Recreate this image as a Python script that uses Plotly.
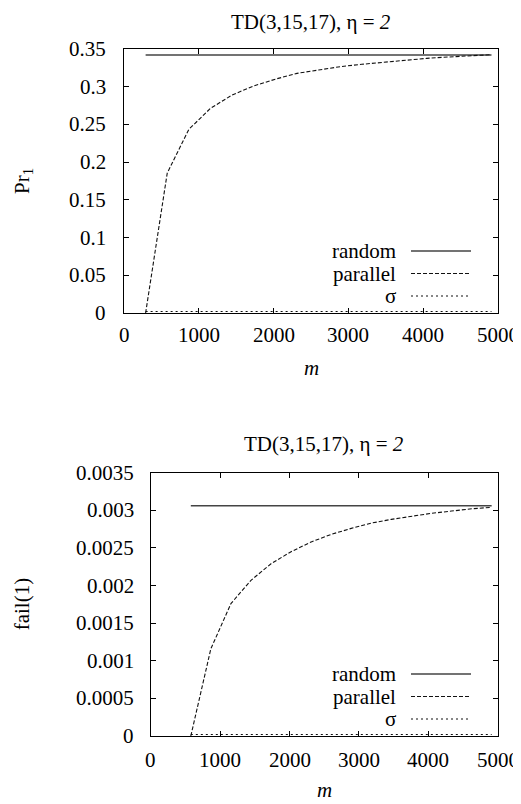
import plotly.graph_objects as go

# ---- data ----
m_top = [289, 578, 867, 1156, 1445, 1734, 2023, 2312, 2601, 2890, 3179, 3468, 3757, 4046, 4335, 4624, 4913]
pr_random = [0.342] * 17
pr_parallel = [0.0, 0.1855, 0.2435, 0.2713, 0.289, 0.301, 0.310, 0.3177, 0.3221, 0.3266,
               0.3297, 0.3326, 0.3354, 0.3376, 0.3394, 0.3411, 0.3425]
pr_sigma = [0.002] * 17

m_bot = [578, 867, 1156, 1445, 1734, 2023, 2312, 2601, 2890, 3179, 3468, 3757, 4046, 4335, 4624, 4913]
fail_random = [0.00306] * 16
fail_parallel = [0.0, 0.00116, 0.00176, 0.00207, 0.00229, 0.00245, 0.00258, 0.00268, 0.00276,
                 0.00283, 0.00288, 0.00292, 0.00296, 0.00299, 0.00302, 0.00304]
fail_sigma = [0.00002] * 16

x_ticks = [0, 1000, 2000, 3000, 4000, 5000]
x_ticks_text = ["0", "1000", "2000", "3000", "4000", "5000"]
y_ticks_top = [0, 0.05, 0.1, 0.15, 0.2, 0.25, 0.3, 0.35]
y_ticks_top_text = ["0", "0.05", "0.1", "0.15", "0.2", "0.25", "0.3", "0.35"]
y_ticks_bot = [0, 0.0005, 0.001, 0.0015, 0.002, 0.0025, 0.003, 0.0035]
y_ticks_bot_text = ["0", "0.0005", "0.001", "0.0015", "0.002", "0.0025", "0.003", "0.0035"]
series_names = ["random", "parallel", "σ"]
title_text = "TD(3,15,17), η = <i>2</i>"

W, H = 521, 804
OFF = 8  # default page body margin: figure starts 8px in from the window corner
FONT = "Liberation Serif"
FS = 21

styles = [dict(color="#444444", width=1.4, dash="solid"),
          dict(color="#111111", width=1.1, dash="4px,2px"),
          dict(color="#111111", width=1.1, dash="2px,3px")]

fig = go.Figure()
for ys, st, nm in zip([pr_random, pr_parallel, pr_sigma], styles, series_names):
    fig.add_trace(go.Scatter(x=m_top, y=ys, mode="lines", line=st, name=nm,
                             xaxis="x", yaxis="y", showlegend=False, cliponaxis=False))
for ys, st, nm in zip([fail_random, fail_parallel, fail_sigma], styles, series_names):
    fig.add_trace(go.Scatter(x=m_bot, y=ys, mode="lines", line=st, name=nm,
                             xaxis="x2", yaxis="y2", showlegend=False, cliponaxis=False))

# layout positions in window pixels
top_box = (124, 498, 49, 313)      # x0, x1, ytop, ybottom
bot_box = (150.7, 497.7, 472.7, 736)

def px(x):
    return (x - OFF) / W

def py(y):
    return 1 - (y - OFF) / H

def axis(**kw):
    d = dict(showgrid=False, zeroline=False, showline=True, linecolor="black",
             linewidth=1.3, mirror="ticks", ticks="inside", ticklen=5,
             tickcolor="black", tickwidth=1, showticklabels=False, automargin=False)
    d.update(kw)
    return d

fig.update_layout(
    width=W, height=H, autosize=False,
    margin=dict(l=0, r=0, t=0, b=0, pad=0, autoexpand=False),
    paper_bgcolor="white", plot_bgcolor="white",
    font=dict(family=FONT, size=FS, color="black"),
    xaxis=axis(domain=[px(top_box[0]), px(top_box[1])], anchor="y", range=[0, 5000],
               tickvals=x_ticks),
    yaxis=axis(domain=[py(top_box[3]), py(top_box[2])], anchor="x", range=[0, 0.35],
               tickvals=y_ticks_top),
    xaxis2=axis(domain=[px(bot_box[0]), px(bot_box[1])], anchor="y2", range=[0, 5000],
                tickvals=x_ticks),
    yaxis2=axis(domain=[py(bot_box[3]), py(bot_box[2])], anchor="x2", range=[0, 0.0035],
                tickvals=y_ticks_bot),
)

ann = []
font = dict(family=FONT, size=FS, color="black")
panels = [
    (top_box, "x", "y", y_ticks_top, y_ticks_top_text, "Pr<sub>1</sub>", 368, 335, 108),
    (bot_box, "x2", "y2", y_ticks_bot, y_ticks_bot_text, "fail(1)", 790, 760, 136),
]
for idx, (box, xr, yr, yt, ytt, ylab, ymt, xlab_y, ylab_right) in enumerate(panels):
    cx = (box[0] + box[1]) / 2
    for v, t in zip(x_ticks, x_ticks_text):
        ann.append(dict(x=v, xref=xr, y=py(xlab_y), yref="paper", text=t, showarrow=False,
                        xanchor="center", yanchor="middle", font=font))
    for v, t in zip(yt, ytt):
        ann.append(dict(x=px(ylab_right), xref="paper", y=v, yref=yr, text=t, showarrow=False,
                        xanchor="right", yanchor="middle", font=font))
    if idx == 0:
        ann.append(dict(x=px(cx), y=1.0, xref="paper", yref="paper", text=title_text,
                        showarrow=False, xanchor="center", yanchor="top", font=font))
    else:
        ann.append(dict(x=px(cx), y=py(444), xref="paper", yref="paper", text=title_text,
                        showarrow=False, xanchor="center", yanchor="middle", font=font))
    ann.append(dict(x=0.0, y=py((box[2] + box[3]) / 2), xref="paper", yref="paper",
                    text=ylab, textangle=-90, showarrow=False, xanchor="left",
                    yanchor="middle", font=font))
    ann.append(dict(x=px(cx), y=py(ymt), xref="paper", yref="paper", text="<i>m</i>",
                    showarrow=False, xanchor="center", yanchor="middle", font=font))

# gnuplot-style key: text on the left, line sample on the right
shapes = []
for box in [top_box, bot_box]:
    for i, (nm, st) in enumerate(zip(series_names, styles)):
        yrow = box[3] - 62 + i * 22.5
        ann.append(dict(x=px(398), y=py(yrow), xref="paper", yref="paper", text=nm,
                        showarrow=False, xanchor="right", yanchor="middle", font=font))
        shapes.append(dict(type="line", xref="paper", yref="paper",
                           x0=px(411), x1=px(471), y0=py(yrow), y1=py(yrow),
                           line=dict(color=st["color"], width=st["width"], dash=st["dash"])))

fig.update_layout(annotations=ann, shapes=shapes)
fig.write_html("out.html")
